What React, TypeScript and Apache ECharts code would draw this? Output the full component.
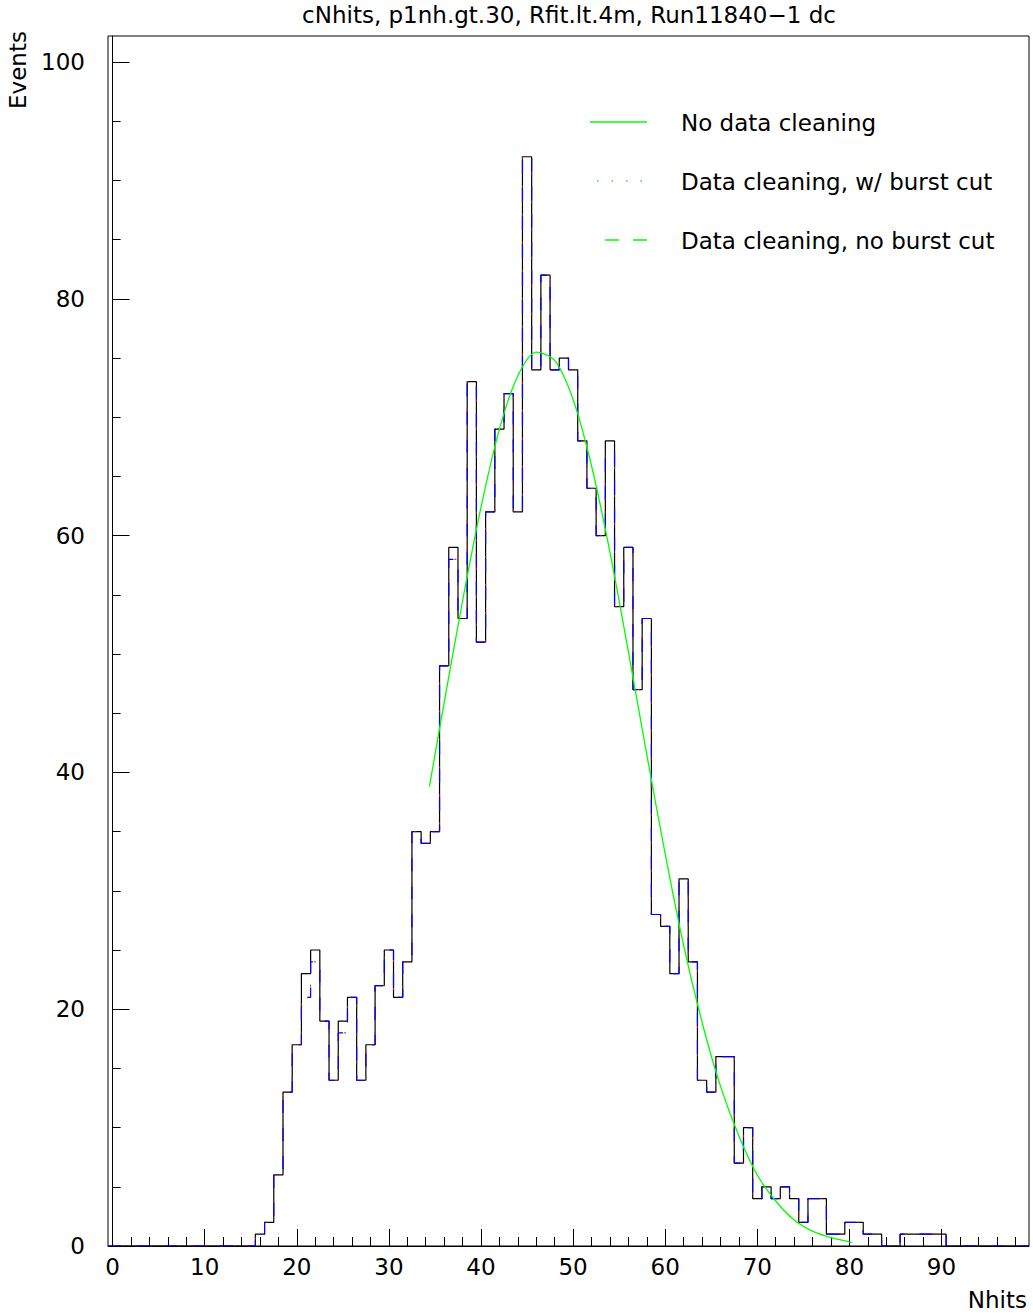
import React, { useEffect, useRef } from "react";
import * as echarts from "echarts";

// ---- data ----
const firstBin = 0; // bins are 1 wide, centred on integers, range -0.5 .. 99.5
const noCleaning = [
  0, 0, 0, 0, 0, 0, 0, 0, 0, 0,
  0, 0, 0, 0, 0, 0, 1, 2, 6, 13,
  17, 23, 25, 19, 14, 19, 21, 14, 17, 22,
  25, 21, 24, 35, 34, 35, 49, 59, 53, 73,
  51, 62, 69, 72, 62, 92, 74, 82, 74, 75,
  74, 68, 64, 60, 68, 54, 59, 47, 53, 28,
  27, 23, 31, 24, 14, 13, 16, 16, 7, 10,
  4, 5, 4, 5, 4, 2, 4, 4, 1, 1,
  2, 2, 1, 1, 0, 0, 1, 1, 1, 1,
  1, 0, 0, 0, 0, 0, 0, 0, 0, 0,
];
const withBurstCut = [
  0, 0, 0, 0, 0, 0, 0, 0, 0, 0,
  0, 0, 0, 0, 0, 0, 1, 2, 6, 13,
  17, 21, 24, 19, 14, 18, 21, 14, 17, 22,
  25, 21, 24, 35, 34, 35, 49, 58, 53, 73,
  51, 62, 69, 72, 62, 92, 74, 82, 74, 75,
  74, 68, 64, 60, 67, 54, 59, 47, 53, 28,
  27, 23, 31, 24, 14, 13, 16, 16, 7, 10,
  4, 5, 4, 5, 4, 2, 4, 4, 1, 1,
  2, 2, 1, 1, 0, 0, 1, 1, 1, 1,
  1, 0, 0, 0, 0, 0, 0, 0, 0, 0,
];
const noBurstCut = [
  0, 0, 0, 0, 0, 0, 0, 0, 0, 0,
  0, 0, 0, 0, 0, 0, 1, 2, 6, 13,
  17, 21, 24, 19, 14, 18, 21, 14, 17, 22,
  25, 21, 24, 35, 34, 35, 49, 58, 53, 73,
  51, 62, 69, 72, 62, 92, 74, 82, 74, 75,
  74, 68, 64, 60, 67, 54, 59, 47, 53, 28,
  27, 23, 31, 24, 14, 13, 16, 16, 7, 10,
  4, 5, 4, 5, 4, 2, 4, 4, 1, 1,
  2, 2, 1, 1, 0, 0, 1, 1, 1, 1,
  1, 0, 0, 0, 0, 0, 0, 0, 0, 0,
];
const fitX = [34.4, 36, 38, 40, 42, 44, 46, 48, 50, 52, 54, 56, 58, 60, 62, 64, 66, 68, 70, 72, 74, 76, 78, 80, 80.3];
const fitY = [38.8, 45.9, 54.5, 62.4, 69.0, 73.5, 75.5, 74.8, 71.5, 65.9, 58.6, 50.2, 41.5, 33.1, 25.4, 18.9, 13.5, 9.3, 6.0, 3.8, 2.2, 1.25, 0.7, 0.35, 0.3];

const xMajor = [0, 10, 20, 30, 40, 50, 60, 70, 80, 90];
const xMinor = [0, 2, 4, 6, 8, 10, 12, 14, 16, 18, 20, 22, 24, 26, 28, 30, 32, 34, 36, 38, 40, 42, 44, 46, 48, 50, 52, 54, 56, 58, 60, 62, 64, 66, 68, 70, 72, 74, 76, 78, 80, 82, 84, 86, 88, 90, 92, 94, 96, 98];
const yMajor = [0, 20, 40, 60, 80, 100];
const yMinor = [0, 5, 10, 15, 20, 25, 30, 35, 40, 45, 50, 55, 60, 65, 70, 75, 80, 85, 90, 95, 100];

const titleText = "cNhits, p1nh.gt.30, Rfit.lt.4m, Run11840\u22121 dc";
const legendLabels = ["No data cleaning", "Data cleaning, w/ burst cut", "Data cleaning, no burst cut"];

const FONT = "'DejaVu Sans', sans-serif";

function stepPoints(vals: number[]) {
  const pts: number[][] = [];
  vals.forEach((v, i) => {
    const c = firstBin + i;
    pts.push([c - 0.5, v], [c + 0.5, v]);
  });
  return pts;
}

export default function App() {
  const ref = useRef<HTMLDivElement>(null);
  useEffect(() => {
    document.body.style.margin = "0";
    const chart = echarts.init(ref.current!, null, { renderer: "svg" });
    const green = "#00ff00";
    const option: any = {
      animation: false,
      backgroundColor: "#fff",
      grid: {
        left: 108,
        top: 36,
        width: 921,
        height: 1210,
        show: true,
        borderColor: "#000",
        borderWidth: 1,
        backgroundColor: "transparent",
        containLabel: false,
      },
      xAxis: [
        {
          type: "value",
          min: -0.5,
          max: 99.5,
          axisLine: { show: true, lineStyle: { color: "#000", width: 1 } },
          axisTick: { show: true, inside: true, length: 17, customValues: xMajor, lineStyle: { color: "#000" } },
          axisLabel: { customValues: xMajor, color: "#000", fontSize: 23, fontFamily: FONT, margin: 9 },
          splitLine: { show: false },
        },
        {
          type: "value",
          min: -0.5,
          max: 99.5,
          position: "bottom",
          axisLine: { show: false },
          axisTick: { show: true, inside: true, length: 9, customValues: xMinor, lineStyle: { color: "#000" } },
          axisLabel: { show: false },
          splitLine: { show: false },
        },
      ],
      yAxis: [
        {
          type: "value",
          min: 0,
          max: 102.2,
          axisLine: { show: true, lineStyle: { color: "#000", width: 1 } },
          axisTick: { show: true, inside: true, length: 17, customValues: yMajor, lineStyle: { color: "#000" } },
          axisLabel: { customValues: yMajor, color: "#000", fontSize: 23, fontFamily: FONT, margin: 23 },
          splitLine: { show: false },
        },
        {
          type: "value",
          min: 0,
          max: 102.2,
          position: "left",
          axisLine: { show: false },
          axisTick: { show: true, inside: true, length: 8, customValues: yMinor, lineStyle: { color: "#000" } },
          axisLabel: { show: false },
          splitLine: { show: false },
        },
      ],
      series: [
        {
          type: "line",
          data: stepPoints(noCleaning),
          showSymbol: false,
          lineStyle: { color: "#000", width: 1.2 },
          z: 2,
        },
        {
          type: "line",
          data: stepPoints(withBurstCut),
          showSymbol: false,
          lineStyle: { color: "#ff0000", width: 1, type: [2, 12] },
          z: 3,
        },
        {
          type: "line",
          data: stepPoints(noBurstCut),
          showSymbol: false,
          lineStyle: { color: "#0000ff", width: 1.2, type: [13, 15] },
          z: 4,
        },
        {
          type: "line",
          data: fitX.map((x, i) => [x, fitY[i]]),
          showSymbol: false,
          smooth: 0.3,
          lineStyle: { color: green, width: 1.3 },
          z: 5,
        },
      ],
      graphic: [
        {
          type: "text",
          x: 569,
          y: 15,
          style: { text: titleText, fill: "#000", font: `23px ${FONT}`, align: "center", verticalAlign: "middle" },
        },
        {
          type: "text",
          x: 18,
          y: 70,
          rotation: Math.PI / 2,
          style: { text: "Events", fill: "#000", font: `23px ${FONT}`, align: "center", verticalAlign: "middle" },
        },
        {
          type: "text",
          x: 1027,
          y: 1300,
          style: { text: "Nhits", fill: "#000", font: `23px ${FONT}`, align: "right", verticalAlign: "middle" },
        },
        { type: "line", shape: { x1: 590, y1: 122, x2: 647, y2: 122 }, style: { stroke: green, lineWidth: 1.3 } },
        { type: "line", shape: { x1: 597, y1: 181, x2: 643, y2: 181 }, style: { stroke: green, lineWidth: 1.3, lineDash: [1.5, 13] } },
        { type: "line", shape: { x1: 605, y1: 240, x2: 647, y2: 240 }, style: { stroke: green, lineWidth: 1.3, lineDash: [14, 14] } },
        ...legendLabels.map((t, i) => ({
          type: "text",
          x: 681,
          y: 123 + i * 59,
          style: { text: t, fill: "#000", font: `23px ${FONT}`, align: "left", verticalAlign: "middle" },
        })),
      ],
    };
    chart.setOption(option);
    return () => chart.dispose();
  }, []);
  return (
    <div
      ref={ref}
      style={{ position: "absolute", left: 0, top: 0, width: 1033, height: 1314, background: "#fff" }}
    />
  );
}
